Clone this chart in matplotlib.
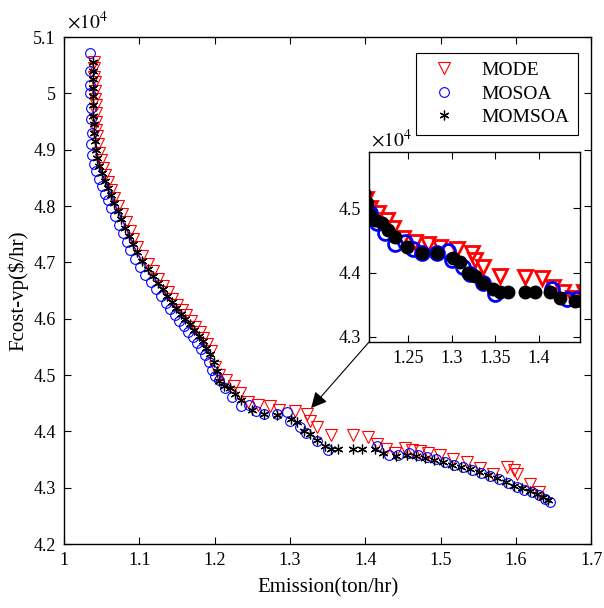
"""
Pareto 前沿对比图: MODE / MOSOA / MOMSOA
带局部放大子图
"""

import matplotlib
matplotlib.use("Agg")
import matplotlib.pyplot as plt
from matplotlib.ticker import FuncFormatter


# ==================== 数据 (Fcost 单位: x10^4 $/hr) ====================

MODE_X = [1.040, 1.040, 1.040, 1.041, 1.041, 1.041, 1.042, 1.042, 1.043, 1.043,
          1.044, 1.045, 1.047, 1.049, 1.052, 1.055, 1.059, 1.063, 1.067, 1.072,
          1.077, 1.082, 1.087, 1.092, 1.097, 1.104, 1.111, 1.118, 1.125, 1.132,
          1.138, 1.144, 1.150, 1.156, 1.162, 1.168, 1.174, 1.180, 1.185, 1.190,
          1.195, 1.201, 1.206, 1.215, 1.226, 1.233, 1.244, 1.258, 1.273, 1.286,
          1.306, 1.323, 1.327, 1.336, 1.355, 1.384, 1.403, 1.416, 1.428, 1.439,
          1.452, 1.462, 1.473, 1.483, 1.499, 1.517, 1.535, 1.552, 1.570, 1.588,
          1.597, 1.602, 1.619, 1.630]
MODE_Y = [5.055, 5.045, 5.030, 5.020, 5.005, 4.990, 4.980, 4.965, 4.950, 4.935,
          4.925, 4.910, 4.895, 4.882, 4.868, 4.855, 4.842, 4.828, 4.815, 4.800,
          4.786, 4.771, 4.756, 4.742, 4.727, 4.712, 4.697, 4.684, 4.671, 4.659,
          4.647, 4.636, 4.625, 4.615, 4.606, 4.596, 4.586, 4.576, 4.566, 4.555,
          4.543, 4.514, 4.500, 4.492, 4.481, 4.469, 4.453, 4.447, 4.445, 4.439,
          4.437, 4.431, 4.419, 4.408, 4.394, 4.393, 4.391, 4.377, 4.369, 4.361,
          4.370, 4.368, 4.366, 4.362, 4.358, 4.352, 4.346, 4.336, 4.324, 4.337,
          4.331, 4.324, 4.307, 4.293]

MOSOA_X = [1.035, 1.035, 1.034, 1.035, 1.036, 1.036, 1.037, 1.036, 1.037, 1.040,
           1.043, 1.046, 1.050, 1.054, 1.058, 1.063, 1.068, 1.073, 1.078, 1.083,
           1.088, 1.094, 1.101, 1.108, 1.115, 1.122, 1.129, 1.135, 1.141, 1.147,
           1.153, 1.159, 1.165, 1.171, 1.177, 1.182, 1.187, 1.192, 1.197, 1.201,
           1.206, 1.214, 1.223, 1.235, 1.246, 1.255, 1.266, 1.283, 1.296, 1.300,
           1.313, 1.321, 1.336, 1.350, 1.415, 1.432, 1.444, 1.458, 1.470, 1.482,
           1.494, 1.506, 1.518, 1.530, 1.542, 1.554, 1.566, 1.578, 1.590, 1.601,
           1.611, 1.621, 1.630, 1.638, 1.645]
MOSOA_Y = [5.072, 5.040, 5.015, 5.000, 4.975, 4.955, 4.930, 4.910, 4.890, 4.875,
           4.862, 4.848, 4.835, 4.822, 4.810, 4.796, 4.782, 4.767, 4.752, 4.737,
           4.722, 4.707, 4.692, 4.678, 4.665, 4.652, 4.640, 4.628, 4.617, 4.606,
           4.596, 4.587, 4.577, 4.567, 4.557, 4.546, 4.535, 4.523, 4.510, 4.499,
           4.492, 4.477, 4.461, 4.445, 4.447, 4.437, 4.431, 4.431, 4.434, 4.419,
           4.408, 4.398, 4.383, 4.367, 4.375, 4.359, 4.359, 4.361, 4.358, 4.355,
           4.351, 4.346, 4.341, 4.337, 4.332, 4.327, 4.321, 4.315, 4.308, 4.302,
           4.297, 4.292, 4.287, 4.281, 4.274]

MOMSOA_X = [1.038, 1.038, 1.038, 1.038, 1.039, 1.039, 1.039, 1.040, 1.040, 1.041,
            1.042, 1.044, 1.047, 1.050, 1.054, 1.058, 1.062, 1.066, 1.071, 1.076,
            1.081, 1.086, 1.091, 1.097, 1.104, 1.111, 1.118, 1.125, 1.131, 1.137,
            1.143, 1.149, 1.155, 1.161, 1.167, 1.173, 1.179, 1.184, 1.189, 1.194,
            1.199, 1.203, 1.206, 1.212, 1.220, 1.227, 1.235, 1.249, 1.266, 1.283,
            1.301, 1.309, 1.319, 1.327, 1.336, 1.347, 1.355, 1.364, 1.384, 1.395,
            1.413, 1.424, 1.441, 1.455, 1.467, 1.479, 1.491, 1.503, 1.515, 1.527,
            1.539, 1.551, 1.563, 1.575, 1.587, 1.598, 1.608, 1.618, 1.628, 1.636,
            1.642]
MOMSOA_Y = [5.055, 5.040, 5.025, 5.010, 4.995, 4.980, 4.960, 4.945, 4.930, 4.915,
            4.900, 4.886, 4.872, 4.858, 4.845, 4.832, 4.819, 4.806, 4.792, 4.777,
            4.762, 4.747, 4.733, 4.718, 4.703, 4.689, 4.676, 4.664, 4.652, 4.640,
            4.629, 4.619, 4.609, 4.600, 4.590, 4.580, 4.570, 4.560, 4.549, 4.537,
            4.524, 4.508, 4.490, 4.481, 4.477, 4.466, 4.455, 4.439, 4.431, 4.430,
            4.422, 4.416, 4.400, 4.395, 4.384, 4.375, 4.369, 4.369, 4.369, 4.369,
            4.369, 4.361, 4.356, 4.359, 4.356, 4.353, 4.350, 4.345, 4.341, 4.337,
            4.333, 4.328, 4.322, 4.317, 4.311, 4.304, 4.299, 4.294, 4.289, 4.283,
            4.279]

X_TICKS = [1.0, 1.1, 1.2, 1.3, 1.4, 1.5, 1.6, 1.7]
Y_TICKS = [4.2, 4.3, 4.4, 4.5, 4.6, 4.7, 4.8, 4.9, 5.0, 5.1]
INSET_X_TICKS = [1.25, 1.3, 1.35, 1.4]
INSET_Y_TICKS = [4.3, 4.4, 4.5]


def fmt_g(v, pos):
    return f"{v:g}"


def style_axes(ax, size):
    ax.tick_params(direction="in", top=True, right=True, length=5,
                   width=0.8, labelsize=size, pad=6)
    for sp in ax.spines.values():
        sp.set_linewidth(1.0)
    ax.xaxis.set_major_formatter(FuncFormatter(fmt_g))
    ax.yaxis.set_major_formatter(FuncFormatter(fmt_g))


# ==================== 绘图 ====================

plt.rcParams["font.family"] = ["Liberation Serif", "DejaVu Serif"]
plt.rcParams["mathtext.fontset"] = "stix"

fig = plt.figure(figsize=(6.04, 6.08), dpi=100)
ax = fig.add_axes([0.106, 0.105, 0.873, 0.834])

ax.plot(MODE_X, MODE_Y, "v", color="red", mfc="none", ms=8, mew=0.8, label="MODE")
ax.plot(MOSOA_X, MOSOA_Y, "o", color="blue", mfc="none", ms=7, mew=0.8, label="MOSOA")
ax.plot(MOMSOA_X, MOMSOA_Y, marker=(6, 2, 0), ls="none", color="black", ms=7,
        mew=0.9, label="MOMSOA")

ax.set_xlim(1.0, 1.7)
ax.set_ylim(4.2, 5.1)
ax.set_xticks(X_TICKS)
ax.set_yticks(Y_TICKS)
style_axes(ax, 13)
ax.set_xlabel("Emission(ton/hr)", fontsize=15)
ax.set_ylabel(r"Fcost-vp(\$/hr)", fontsize=15)
ax.xaxis.set_label_coords(0.5, -0.068)
ax.yaxis.set_label_coords(-0.068, 0.5)
ax.text(0.005, 1.008, r"$\times10^{4}$", transform=ax.transAxes,
        fontsize=14, ha="left", va="bottom")

leg = ax.legend(loc="upper right", bbox_to_anchor=(0.957, 0.913),
                bbox_transform=fig.transFigure, borderaxespad=0, fontsize=14,
                fancybox=False, framealpha=1, edgecolor="black",
                handletextpad=0.9, borderpad=0.45, labelspacing=0.3)
leg.get_frame().set_linewidth(0.8)

# ---- 局部放大 ----
axin = fig.add_axes([0.611, 0.4375, 0.349, 0.3125])
axin.plot(MODE_X, MODE_Y, "v", color="red", mfc="none", ms=10, mew=2)
axin.plot(MOSOA_X, MOSOA_Y, "o", color="blue", mfc="none", ms=10, mew=2)
axin.plot(MOMSOA_X, MOMSOA_Y, "o", color="black", mfc="black", ms=9, mew=1)
axin.set_xlim(1.205, 1.447)
axin.set_ylim(4.292, 4.5875)
axin.set_xticks(INSET_X_TICKS)
axin.set_yticks(INSET_Y_TICKS)
style_axes(axin, 13)
axin.text(0.01, 1.008, r"$\times10^{4}$", transform=axin.transAxes,
          fontsize=14, ha="left", va="bottom")

# 箭头: 子图左下角 -> 主图放大区域
ax.annotate("", xy=(1.328, 4.4415), xytext=(0.611, 0.4375),
            textcoords="figure fraction",
            arrowprops=dict(arrowstyle="-|>", color="black", lw=0.8,
                            mutation_scale=24, shrinkA=0, shrinkB=0))

fig.savefig("out.png", dpi=100)
